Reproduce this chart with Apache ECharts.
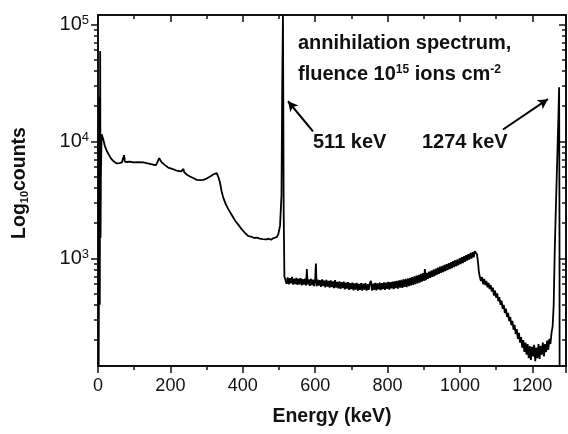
<!DOCTYPE html>
<html><head><meta charset="utf-8">
<script src="https://cdn.jsdelivr.net/npm/echarts@6/dist/echarts.min.js"></script>
<style>html,body{margin:0;padding:0;background:#fff}#chart{width:568px;height:434px}</style>
</head><body><div id="chart"></div>
<script>
// Gamma spectrum: [energy keV, counts]
const lowRegion = [
  [0,1],[3,1],[4,24000],[5,400],[6,59000],[7,1500],[8,5000],[10,11500],[14,10500],[19,9100],
  [24,8300],[29,7760],[34,7300],[38,7000],[44,6700],[52,6460],[60,6500],[66,6600],[70,6550],
  [72,7600],[74,6700],[80,6650],[88,6700],[98,6600],[110,6620],[125,6600],[140,6450],[153,6300],
  [160,6250],[165,6700],[169,7170],[172,6950],[176,6600],[185,6250],[194,5960],[205,5800],
  [215,5650],[222,5570],[230,5520],[234,5500],[236,5800],[238,5450],[245,5200],[254,5000],
  [263,4850],[273,4680],[282,4650],[291,4680],[300,4800],[310,5000],[318,5200],[323,5320],
  [328,5350],[333,4900],[337,4440],[341,3800],[346,3300],[353,2900],[360,2630],[370,2330],
  [379,2090],[388,1930],[397,1770],[406,1650],[415,1550],[425,1520],[432,1490],[439,1500],
  [447,1470],[455,1460],[460,1440],[466,1450],[472,1470],[478,1440],[484,1480],[489,1500],
  [494,1520],[498,1600],[503,1900],[507,3500],[509,30000],[511,118000],[512,20000],[513,2500],[515,700]
];
const midRegion = [
  [518,690],[521,605],[524,685],[527,598],[530,675],[533,610],[536,692],[539,596],[542,670],
  [545,602],[548,680],[551,592],[554,668],[557,600],[560,675],[563,588],[566,662],[569,596],
  [572,670],[575,585],[577,810],[579,598],[582,660],[585,580],[588,668],[591,590],[594,655],
  [597,578],[600,662],[602,900],[604,576],[607,655],[610,585],[613,650],[616,570],[619,660],
  [622,578],[625,645],[628,565],[631,652],[634,572],[637,640],[640,562],[643,648],[646,568],
  [649,635],[652,556],[655,650],[658,562],[661,628],[664,552],[667,636],[670,548],[673,625],
  [676,556],[679,630],[682,542],[685,618],[688,550],[691,624],[694,536],[697,612],[700,545],
  [703,618],[706,532],[709,610],[712,540],[715,615],[718,530],[721,605],[724,536],[727,612],
  [730,528],[733,606],[736,540],[739,614],[742,530],[745,602],[748,538],[751,612],[754,640],
  [757,530],[760,608],[763,538],[766,616],[769,532],[772,610],[775,542],[778,620],[781,535],
  [784,614],[787,545],[790,622],[793,538],[796,618],[799,548],[802,628],[805,540],[808,625],
  [811,552],[814,632],[817,546],[820,636],[823,556],[826,640],[829,550],[832,648],[835,562],
  [838,652],[841,558],[844,660],[847,570],[850,665],[853,566],[856,672],[859,578],[862,680],
  [865,585],[868,690],[871,592],[874,700],[877,600],[880,712],[883,610],[886,722],[889,618],
  [892,735],[895,630],[898,748],[901,640],[903,810],[906,652],[909,750],[912,668],[915,770],
  [918,680],[921,785],[924,692],[927,800],[930,705],[933,815],[936,720],[939,832],[942,735],
  [945,848],[948,750],[951,860],[954,762],[957,878],[960,778],[963,892],[966,792],[969,910],
  [972,808],[975,925],[978,822],[981,945],[984,840],[987,962],[990,855],[993,980],[996,872],
  [999,1000],[1002,890],[1005,1020],[1008,910],[1011,1040],[1014,930],[1017,1065],[1020,955],
  [1023,1085],[1026,975],[1029,1110],[1032,995],[1035,1130],[1038,1020],[1041,1150],[1044,1140],
  [1047,1080],[1050,920]
];
const highRegion = [
  [1052,780],[1055,690],[1058,640],[1061,690],[1064,600],[1067,665],[1070,590],[1073,640],
  [1076,565],[1079,615],[1082,545],[1085,590],[1088,520],[1091,560],[1094,480],[1097,530],
  [1100,460],[1103,500],[1106,430],[1109,465],[1112,400],[1115,435],[1118,370],[1121,400],
  [1124,340],[1127,372],[1130,315],[1133,342],[1136,290],[1139,316],[1142,268],[1145,292],
  [1148,245],[1151,270],[1154,225],[1157,248],[1160,205],[1163,230],[1166,190],[1169,212],
  [1172,172],[1175,200],[1178,158],[1181,190],[1184,150],[1187,185],[1190,140],[1193,178],
  [1196,135],[1199,175],[1202,145],[1205,182],[1208,132],[1211,172],[1214,140],[1217,185],
  [1220,138],[1223,178],[1226,150],[1229,190],[1232,145],[1235,185],[1238,158],[1241,198],
  [1244,165],[1247,205],[1250,185],[1253,230],[1256,260],[1259,400],[1262,1200],[1266,3500],
  [1270,9500],[1272,16000],[1274,29000],[1275,2000],[1276,1]
];
const spectrum = lowRegion.concat(midRegion, highRegion);

const yMajor = [1000, 10000, 100000];
const yMinor = [200,300,400,500,600,700,800,900,2000,3000,4000,5000,6000,7000,8000,9000,
  20000,30000,40000,50000,60000,70000,80000,90000];

const FONT = 'Liberation Sans, Arial, sans-serif';
const INK = '#111';

function yAxisDef(pos, values, len, inside, labels) {
  return {
    type: 'log', logBase: 10, min: 120, max: 120000, position: pos,
    axisLine: { show: true, lineStyle: { color: INK, width: 2 } },
    splitLine: { show: false },
    axisTick: { show: true, inside: inside, length: len, customValues: values,
      lineStyle: { color: INK, width: 1.5 } },
    axisLabel: labels ? {
      show: true, customValues: values, margin: 9, color: INK,
      formatter: v => '{b|10}{s|' + Math.round(Math.log10(v)) + '}',
      rich: { b: { fontSize: 20, fontFamily: FONT, color: INK },
              s: { fontSize: 13, fontFamily: FONT, color: INK, verticalAlign: 'top' } }
    } : { show: false }
  };
}

function xAxisDef(pos, inside, labels) {
  return {
    type: 'value', min: 0, max: 1293, interval: 200, position: pos,
    axisLine: { show: true, onZero: false, lineStyle: { color: INK, width: 2 } },
    splitLine: { show: false },
    axisTick: { show: true, inside: inside, length: 7, lineStyle: { color: INK, width: 1.5 } },
    minorTick: { show: true, splitNumber: 2, length: 4, lineStyle: { color: INK, width: 1.5 } },
    axisLabel: labels ? { show: true, fontSize: 18, fontFamily: FONT, color: INK, margin: 11,
      formatter: v => String(v) } : { show: false },
    name: labels ? 'Energy (keV)' : '',
    nameLocation: 'middle', nameGap: 41,
    nameTextStyle: { fontSize: 19.5, fontWeight: 'bold', fontFamily: FONT, color: INK }
  };
}

const bold = size => ({ fontSize: size, fontWeight: 'bold', fontFamily: FONT, fill: INK });

const chart = echarts.init(document.getElementById('chart'), null, { renderer: 'canvas' });
chart.setOption({
  animation: false,
  backgroundColor: '#fff',
  textStyle: { fontFamily: FONT },
  grid: { left: 98, right: 2, top: 15, bottom: 68, containLabel: false },
  xAxis: [ xAxisDef('bottom', false, true), xAxisDef('top', true, false) ],
  yAxis: [
    yAxisDef('left', yMajor, 7, false, true),
    yAxisDef('left', yMinor, 4, false, false),
    yAxisDef('right', yMajor, 7, true, false),
    yAxisDef('right', yMinor, 4, true, false)
  ],
  series: [{
    type: 'line', xAxisIndex: 0, yAxisIndex: 0,
    data: spectrum, showSymbol: false, symbol: 'none', sampling: null,
    lineStyle: { color: '#000', width: 1.8 },
    markLine: {
      silent: true, symbol: ['none', 'arrow'], symbolSize: [8, 10],
      label: { show: false },
      lineStyle: { color: '#000', width: 2, type: 'solid' },
      data: [
        [{ coord: [594, 12160] }, { coord: [525, 21980] }],
        [{ coord: [1119, 12600] }, { coord: [1243, 22900] }]
      ]
    }
  }],
  graphic: [
    { type: 'text', x: 20, y: 183, rotation: Math.PI / 2,
      style: { text: '{b|Log}{sub|10}{b|counts}', align: 'center', verticalAlign: 'middle',
        rich: { b: bold(19.5), sub: Object.assign(bold(11), { verticalAlign: 'bottom' }) } } },
    { type: 'text', x: 298, y: 43,
      style: Object.assign(bold(20), { text: 'annihilation spectrum,', verticalAlign: 'middle' }) },
    { type: 'text', x: 298, y: 74,
      style: { text: '{b|fluence 10}{s|15}{b| ions cm}{s|-2}', verticalAlign: 'middle',
        rich: { b: bold(20), s: Object.assign(bold(12), { verticalAlign: 'top' }) } } },
    { type: 'text', x: 313, y: 142,
      style: Object.assign(bold(20), { text: '511 keV', verticalAlign: 'middle' }) },
    { type: 'text', x: 422, y: 142,
      style: Object.assign(bold(20), { text: '1274 keV', verticalAlign: 'middle' }) }
  ]
});
</script></body></html>
